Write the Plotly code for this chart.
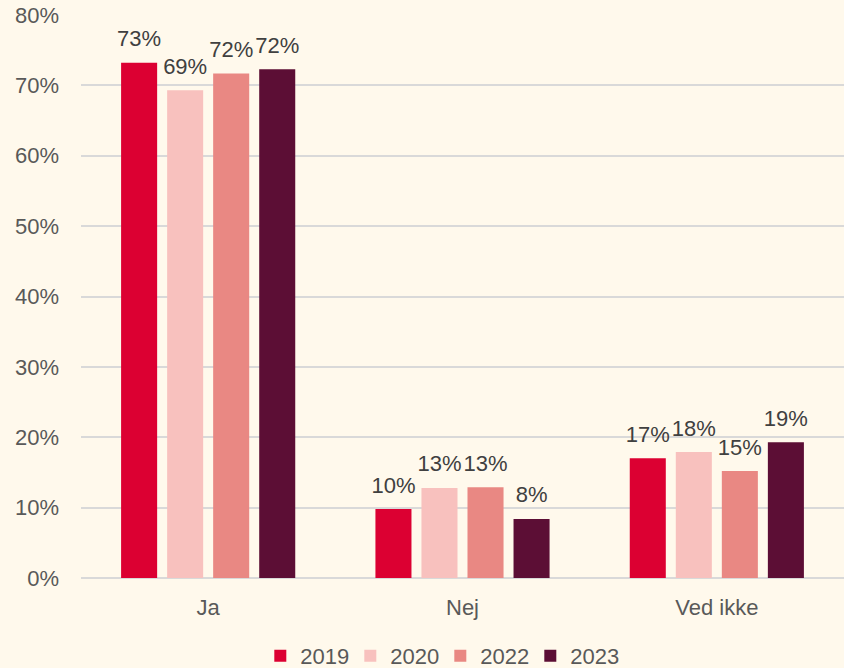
import plotly.graph_objects as go

categories = ["Ja", "Nej", "Ved ikke"]
years = ["2019", "2020", "2022", "2023"]
values = {
    "2019": [73.2, 9.8, 17.0],
    "2020": [69.3, 12.8, 17.9],
    "2022": [71.7, 12.9, 15.2],
    "2023": [72.3, 8.4, 19.3],
}
colors = {"2019": "#DC0032", "2020": "#F8C1BE", "2022": "#E98883", "2023": "#5C0E35"}
tick_vals = [0, 10, 20, 30, 40, 50, 60, 70, 80]
tick_text = [f"{v}%" for v in tick_vals]

fig = go.Figure()
for y in years:
    fig.add_trace(go.Bar(
        name=y, x=categories, y=values[y],
        marker=dict(color=colors[y], line=dict(width=0)),
        offsetgroup=y, alignmentgroup="a",
        hoverinfo="skip",
    ))
for y in years:
    fig.add_trace(go.Scatter(
        x=categories, y=values[y], mode="markers+text",
        marker=dict(size=16, opacity=0),
        text=[f"{round(v)}%" for v in values[y]],
        textposition="top center",
        textfont=dict(size=22, color="#404040"),
        offsetgroup=y, alignmentgroup="a",
        showlegend=False, cliponaxis=False, hoverinfo="skip",
    ))

fig.update_layout(
    width=844, height=668,
    barmode="group", bargap=0.276, bargroupgap=0.217,
    scattermode="group", scattergap=0.276,
    paper_bgcolor="#FFF9EC", plot_bgcolor="#FFF9EC",
    font=dict(family="Liberation Sans, Arial, sans-serif", size=22, color="#595959"),
    margin=dict(l=81, r=0, t=15, b=90),
    showlegend=True,
    legend=dict(orientation="h", x=0.235, xanchor="left", yref="container", y=0.018, yanchor="middle",
                font=dict(size=22, color="#595959"), itemwidth=30, entrywidth=45,
                traceorder="normal"),
)
fig.update_xaxes(showgrid=False, showline=False, ticks="", tickfont=dict(size=22, color="#595959"),
                 ticklabelstandoff=14)
fig.update_yaxes(range=[0, 80], tickvals=tick_vals, ticktext=tick_text,
                 showgrid=True, gridcolor="#D9D9D9", gridwidth=1.5,
                 zeroline=True, zerolinecolor="#D9D9D9", zerolinewidth=1.5,
                 tickfont=dict(size=22, color="#595959"), ticks="", ticklabelstandoff=21)

fig.write_html("out.html", config={"displayModeBar": False},
               post_script="document.body.style.margin='0';document.body.style.overflow='hidden';")
